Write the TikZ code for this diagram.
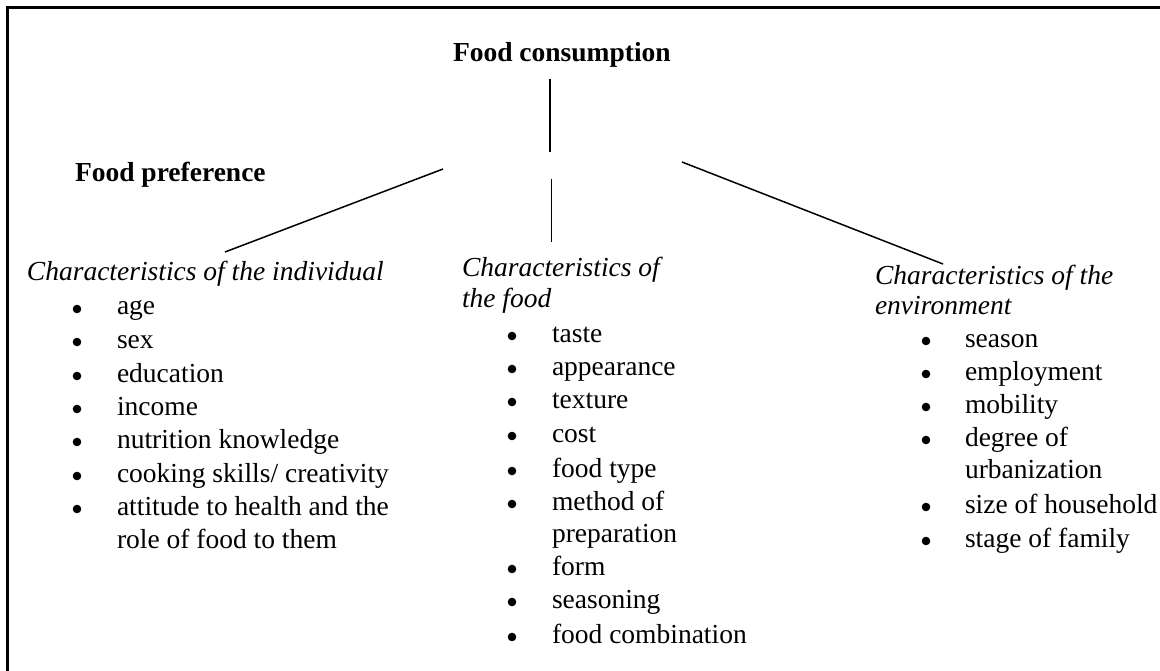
\documentclass[tikz,border=0pt]{standalone}
\usepackage{fontspec}
\setmainfont{Liberation Serif}
\newcommand{\figsize}{\fontsize{27.5pt}{33pt}\selectfont}
\tikzset{
  txt/.style={anchor=base west, inner sep=0pt, outer sep=0pt, font=\figsize},
  ttl/.style={txt, font=\figsize\bfseries},
  head/.style={txt, font=\figsize\itshape},
  dot/.style={circle, fill=black, inner sep=0pt, minimum size=8.6pt},
  link/.style={line width=1.5pt, line cap=butt},
  frame/.style={line width=2.4pt}
}
\begin{document}
\begin{tikzpicture}[x=1pt, y=-1pt]
  \clip (0,0) rectangle (1160,671);
  \fill[white] (0,0) rectangle (1160,671);
  % outer frame (only its top and left sides fall inside the page)
  \draw[frame] (7.5,7.5) rectangle (1200,720);

  % titles
  \node[ttl] (cons) at (453,62) {Food consumption};
  \node[ttl] (pref) at (75,182) {Food preference};

  % column headings
  \node[head] (hind) at (27,281) {Characteristics of the individual};
  \node[head] (hfood1) at (462,277) {Characteristics of};
  \node[head] (hfood2) at (462,308) {the food};
  \node[head] (henv1) at (875,284) {Characteristics of the};
  \node[head] (henv2) at (875,314) {environment};

  % individual
  \foreach \yy/\tt [count=\i] in {315/age, 348/sex, 382/education, 415/income,
      448/nutrition knowledge, 482/{cooking skills/ creativity},
      515/attitude to health and the} {
    \node[dot] (ib\i) at (77,\yy-6) {};
    \node[txt] (it\i) at (117,\yy) {\tt};
  }
  \node[txt] (it8) at (117,548) {role of food to them};

  % food
  \foreach \yy/\tt [count=\i] in {342/taste, 375/appearance, 408/texture,
      442/cost, 477/food type, 510/method of, 575/form, 608/seasoning,
      643/food combination} {
    \node[dot] (fb\i) at (512,\yy-6) {};
    \node[txt] (ft\i) at (552,\yy) {\tt};
  }
  \node[txt] (ft10) at (552,542) {preparation};

  % environment
  \foreach \yy/\tt [count=\i] in {347/season, 380/employment, 413/mobility,
      446/degree of, 513/size of household, 547/stage of family} {
    \node[dot] (eb\i) at (926,\yy-6) {};
    \node[txt] (et\i) at (965,\yy) {\tt};
  }
  \node[txt] (et7) at (965,478) {urbanization};

  % connector end points
  \coordinate (v1a) at (550,79);
  \coordinate (v1b) at (550,152);
  \coordinate (v2a) at (551.5,179);
  \coordinate (v2b) at (551.5,242);
  \coordinate (la) at (443,169);
  \coordinate (lb) at (225,252);
  \coordinate (ra) at (682,162);
  \coordinate (rb) at (943,264);

  \draw[link] (v1a) -- (v1b);
  \draw[link] (v2a) -- (v2b);
  \draw[link] (la) -- (lb);
  \draw[link] (ra) -- (rb);
\end{tikzpicture}
\end{document}
